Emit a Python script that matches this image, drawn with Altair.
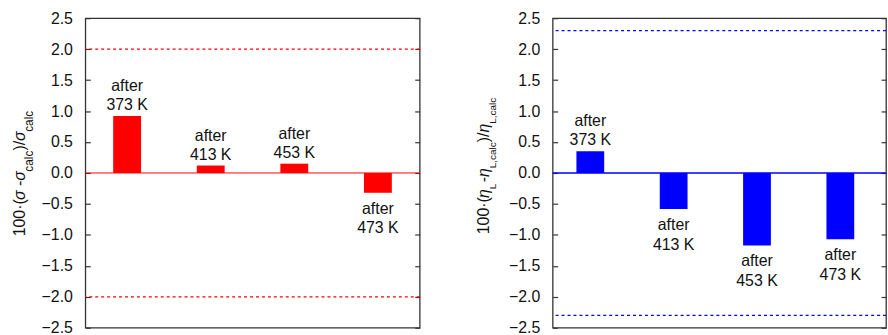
import altair as alt
import pandas as pd

# ---------------- data ----------------
cats = ["373 K", "413 K", "453 K", "473 K"]
sigma_dev = [0.92, 0.12, 0.15, -0.32]
eta_dev = [0.35, -0.58, -1.17, -1.07]
sigma_limits = [2.0, -2.0]
eta_limits = [2.3, -2.3]
y_ticks = [-2.5, -2.0, -1.5, -1.0, -0.5, 0.0, 0.5, 1.0, 1.5, 2.0, 2.5]

FONT = "Liberation Sans"
TXT = "#111111"
H = 312

# approximate Arial / Liberation Sans advance widths (1/1000 em)
ADV = {"0": 556, "1": 556, "·": 278, "(": 333, ")": 333, "/": 278, " ": 278,
       "-": 333, "c": 500, "a": 556, "l": 222, "L": 556, ",": 278,
       "σ": 570, "η": 556}


def tw(s, size):
    return sum(ADV.get(ch, 556) for ch in s) / 1000.0 * size


def title_layers(segments, base_x, sub_shift, center_y):
    widths = [tw(t, sz) + adj for t, st, sz, sub, adj in segments]
    y = center_y + sum(widths) / 2.0
    layers = []
    for (t, st, sz, sub, adj), w in zip(segments, widths):
        layers.append(
            alt.Chart(alt.Data(values=[{}]))
            .mark_text(angle=270, align="left", baseline="alphabetic",
                       font=FONT, fontSize=sz, fontStyle=st, color=TXT)
            .encode(x=alt.value(base_x + (sub_shift if sub else 0)),
                    y=alt.value(y), text=alt.value(t))
        )
        y -= w
    return layers


def panel(values, limits, color, width, align, segments, tx, sub_shift,
          tcenter, marker_x, zero_w):
    df = pd.DataFrame({"cat": cats, "val": values,
                       "label": ["after\n" + c for c in cats]})
    yscale = alt.Scale(domain=[-2.5, 2.5], nice=False, zero=False)
    xenc = alt.X("cat:N", sort=cats, axis=None,
                 scale=alt.Scale(paddingInner=2 / 3, paddingOuter=1 / 3, align=align))
    base = alt.Chart(df)

    zero = alt.Chart(pd.DataFrame({"z": [0.0]})).mark_rule(
        color=color, strokeWidth=zero_w).encode(
        y=alt.Y("z:Q", scale=yscale,
                axis=alt.Axis(orient="right", values=y_ticks, labels=False,
                              offset=-5, tickSize=5, domain=False, grid=False,
                              title=None)))

    bars = base.mark_bar(color=color).encode(
        x=xenc,
        y=alt.Y("val:Q", scale=yscale,
                axis=alt.Axis(orient="left", values=y_ticks, format=".1f",
                              offset=-5, tickSize=5, domain=False,
                              labelPadding=13, grid=False, title=None)),
        y2=alt.datum(0),
    )

    pos = base.transform_filter("datum.val > 0").mark_text(
        baseline="bottom", dy=-22, lineBreak="\n", font=FONT, fontSize=16,
        lineHeight=19, color=TXT).encode(
        x=xenc, y=alt.Y("val:Q", axis=None, scale=yscale), text="label:N")
    neg = base.transform_filter("datum.val < 0").mark_text(
        baseline="top", dy=8, lineBreak="\n", font=FONT, fontSize=16,
        lineHeight=20, color=TXT).encode(
        x=xenc, y=alt.Y("val:Q", axis=None, scale=yscale), text="label:N")

    lims = alt.Chart(pd.DataFrame({"lim": limits})).mark_rule(
        color=color, strokeDash=[3, 3], strokeWidth=1.2).encode(
        y=alt.Y("lim:Q", axis=None, scale=yscale))

    marker = alt.Chart(alt.Data(values=[{}])).mark_rule(
        strokeOpacity=0, opacity=0).encode(
        x=alt.value(marker_x), x2=alt.value(marker_x),
        y=alt.value(-16), y2=alt.value(-16))

    tl = title_layers(segments, tx, sub_shift, tcenter)

    return alt.layer(marker, lims, zero, bars, pos, neg, *tl).resolve_axis(
        y="independent").properties(width=width, height=H)


# (text, style, size, subscript, width adjustment)
left_segments = [("100·(", "normal", 16, False, 0), ("σ", "italic", 16, False, 5),
                 ("-", "normal", 16, False, 0), ("σ", "italic", 16, False, 0),
                 ("calc", "normal", 12, True, 0), (")/", "normal", 16, False, 0),
                 ("σ", "italic", 16, False, 0), ("calc", "normal", 12, True, 0)]
right_segments = [("100·(", "normal", 16, False, 0), ("η", "italic", 16, False, 0),
                  ("L", "normal", 10, True, 1.5), ("-", "normal", 16, False, 0),
                  ("η", "italic", 16, False, 0), ("L,calc", "normal", 10, True, 0),
                  (")/", "normal", 16, False, 0), ("η", "italic", 16, False, 0),
                  ("L,calc", "normal", 10, True, 0)]

left = panel(sigma_dev, sigma_limits, "#ff0000", 337, 0.5, left_segments,
             -60.5, 8, 156.5, -85, 1.0)
right = panel(eta_dev, eta_limits, "#0000ff", 336, 0.428, right_segments,
              -64.5, 7, 149, -131, 1.5)

chart = alt.hconcat(left, right, spacing=0).properties(
    padding={"left": 0, "top": 0, "right": 0, "bottom": 0}
).configure_view(stroke="#333333", strokeWidth=1.3).configure_axis(
    labelFont=FONT, labelFontSize=16, labelColor=TXT, tickColor="#333333",
    tickWidth=1.2)

chart.save("out.html", embed_options={"renderer": "svg", "actions": False})
